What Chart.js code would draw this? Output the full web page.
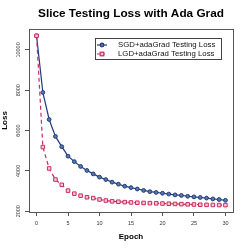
<!DOCTYPE html>
<html>
<head>
<meta charset="utf-8">
<script src="https://cdn.jsdelivr.net/npm/chart.js@4.4.1/dist/chart.umd.min.js"></script>
<style>
  html, body { margin:0; padding:0; background:#fff; }
  canvas { display:block; }
</style>
</head>
<body>
<canvas id="lossChart" width="249" height="249"></canvas>
<script>

// =====================================
// 📊 DATA
// =====================================

const epochs = [
  0,1,2,3,4,5,6,7,8,9,10,
  11,12,13,14,15,16,17,18,19,20,
  21,22,23,24,25,26,27,28,29,30
];

const sgdLoss = [
  10700,7890,6550,5710,5200,4730,4460,4220,4020,3850,3690,
  3570,3440,3340,3240,3170,3100,3030,2970,2930,2890,
  2850,2810,2780,2740,2710,2680,2650,2610,2580,2540
];

const lgdLoss = [
  10700,5180,4120,3570,3310,3020,2870,2770,2690,2650,2580,
  2530,2490,2470,2450,2435,2420,2410,2400,2390,2380,
  2370,2360,2350,2340,2330,2320,2315,2310,2305,2300
];

const xTicks = [0,5,10,15,20,25,30];
const yTicks = [2000,4000,6000,8000,10000];

const seriesNames = [
  "SGD+adaGrad Testing Loss",
  "LGD+adaGrad Testing Loss"
];

const FONT = "'Liberation Sans', Arial, sans-serif";

const NAVY = "#1f3b7a";
const CRIMSON = "#cc2b5e";


// =====================================
// 🧩 PLUGIN: box, y labels, legend
// =====================================

const rStylePlugin = {

  id:"rStyle",

  afterDraw(chart){

    const ctx = chart.ctx;
    const area = chart.chartArea;
    const yScale = chart.scales.y;

    ctx.save();

    // plot box
    ctx.strokeStyle = "#555";
    ctx.lineWidth = 1;
    ctx.strokeRect(
      Math.round(area.left)+0.5,
      Math.round(area.top)+0.5,
      Math.round(area.right-area.left),
      Math.round(area.bottom-area.top)
    );

    // rotated y tick labels
    ctx.fillStyle = "#333";
    ctx.font = "5.5px " + FONT;
    ctx.textAlign = "center";
    ctx.textBaseline = "middle";

    yTicks.forEach(v => {

      const py = yScale.getPixelForValue(v);

      ctx.save();
      ctx.translate(18.5, py);
      ctx.rotate(-Math.PI/2);
      ctx.fillText(String(v), 0, 0);
      ctx.restore();

    });

    // legend box
    const lx = 95, ly = 38, lw = 126, lh = 21;

    ctx.fillStyle = "#fff";
    ctx.fillRect(lx, ly, lw, lh);
    ctx.strokeStyle = "#444";
    ctx.strokeRect(lx+0.5, ly+0.5, lw, lh);

    const rows = [ly+7, ly+16];

    // row 1: solid navy + circle
    ctx.strokeStyle = NAVY;
    ctx.lineWidth = 1.2;
    ctx.setLineDash([]);
    ctx.beginPath();
    ctx.moveTo(97, rows[0]);
    ctx.lineTo(107, rows[0]);
    ctx.stroke();
    ctx.fillStyle = "#5a76b0";
    ctx.beginPath();
    ctx.arc(102, rows[0], 1.8, 0, Math.PI*2);
    ctx.fill();
    ctx.stroke();

    // row 2: dashed crimson + square
    ctx.strokeStyle = CRIMSON;
    ctx.setLineDash([3,2]);
    ctx.beginPath();
    ctx.moveTo(97, rows[1]);
    ctx.lineTo(107, rows[1]);
    ctx.stroke();
    ctx.setLineDash([]);
    ctx.fillStyle = "#f2cbd8";
    ctx.fillRect(100.2, rows[1]-1.8, 3.6, 3.6);
    ctx.strokeRect(100.2, rows[1]-1.8, 3.6, 3.6);

    // legend text
    ctx.fillStyle = "#111";
    ctx.font = "7.8px " + FONT;
    ctx.textAlign = "left";
    ctx.textBaseline = "middle";
    ctx.fillText(seriesNames[0], 118, rows[0]);
    ctx.fillText(seriesNames[1], 118, rows[1]);

    ctx.restore();

  }

};


// =====================================
// 🚀 CHART
// =====================================

const toPoints = vals =>
  epochs.map((e,i) => ({ x:e, y:vals[i] }));

new Chart(
  document.getElementById("lossChart"),
  {

    type:"line",

    data:{

      datasets:[

        {
          label:seriesNames[1],
          data:toPoints(lgdLoss),
          borderColor:CRIMSON,
          borderWidth:1.2,
          borderDash:[4,3],
          pointStyle:"rect",
          pointRadius:2.5,
          pointBorderWidth:1,
          pointBorderColor:CRIMSON,
          pointBackgroundColor:"#f2cbd8",
          tension:0
        },

        {
          label:seriesNames[0],
          data:toPoints(sgdLoss),
          borderColor:NAVY,
          borderWidth:1.2,
          pointStyle:"circle",
          pointRadius:1.9,
          pointBorderWidth:1,
          pointBorderColor:NAVY,
          pointBackgroundColor:"#5a76b0",
          tension:0
        }

      ]

    },

    options:{

      responsive:false,
      animation:false,

      layout:{
        padding:{ left:0, right:16, top:0, bottom:0 }
      },

      plugins:{

        legend:{ display:false },
        tooltip:{ enabled:false },

        // centred over the plot area like R's main title
        title:{
          display:true,
          fullSize:false,
          text:"Slice Testing Loss with Ada Grad",
          color:"#000",
          font:{ family:FONT, size:11.8, weight:"bold" },
          padding:{ top:7, bottom:7.8 }
        }

      },

      scales:{

        x:{
          type:"linear",
          min:-1.2,
          max:31.2,
          afterBuildTicks(scale){
            scale.ticks = xTicks.map(v => ({ value:v }));
          },
          afterFit(scale){
            scale.height = 37;
          },
          border:{ display:false },
          grid:{
            drawOnChartArea:false,
            drawTicks:true,
            tickLength:4,
            color:"#555"
          },
          ticks:{
            color:"#333",
            font:{ family:FONT, size:5.5 },
            padding:4,
            maxRotation:0
          },
          title:{
            display:true,
            text:"Epoch",
            color:"#000",
            font:{ family:FONT, size:8, weight:"bold" },
            padding:{ top:0, bottom:7.5 }
          }
        },

        y:{
          type:"linear",
          min:1960,
          max:11040,
          afterBuildTicks(scale){
            scale.ticks = yTicks.map(v => ({ value:v }));
          },
          afterFit(scale){
            scale.width = 29;
          },
          border:{ display:false },
          grid:{
            drawOnChartArea:false,
            drawTicks:true,
            tickLength:4,
            color:"#555"
          },
          ticks:{
            display:false
          },
          title:{
            display:true,
            text:"Loss",
            color:"#000",
            font:{ family:FONT, size:8, weight:"bold" },
            padding:{ top:0, bottom:0 }
          }
        }

      }

    },

    plugins:[rStylePlugin]

  }
);

</script>
</body>
</html>
